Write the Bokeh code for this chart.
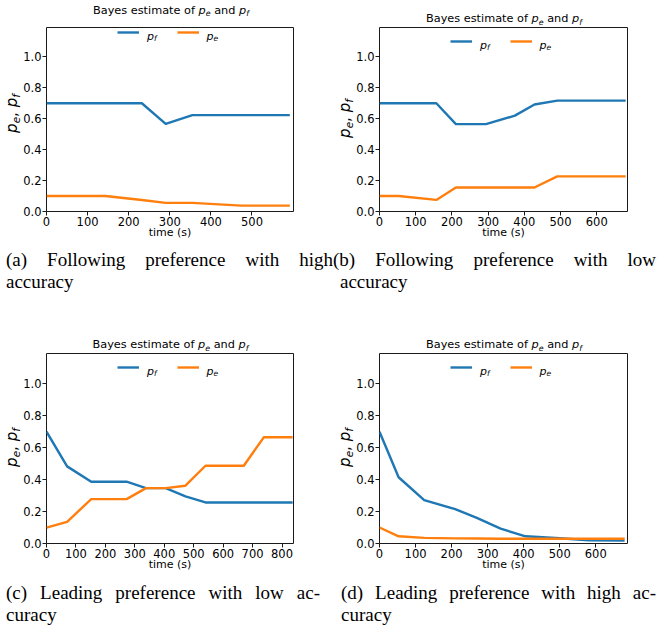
from bokeh.plotting import figure
from bokeh.models import (Label, Legend, LegendItem, FixedTicker,
                          PrintfTickFormatter, Range1d, Div, GridBox)
from bokeh.embed import file_html
from bokeh.resources import INLINE

# ---------------- data ----------------
time_a = [0, 143, 232, 290, 355, 420, 475, 592]
pf_a = [0.70, 0.70, 0.70, 0.567, 0.623, 0.623, 0.623, 0.623]
pe_a = [0.10, 0.10, 0.074, 0.056, 0.056, 0.046, 0.038, 0.038]

time_b = [0, 53, 157, 211, 294, 374, 428, 491, 680]
pf_b = [0.70, 0.70, 0.70, 0.565, 0.565, 0.62, 0.692, 0.717, 0.717]
pe_b = [0.10, 0.10, 0.075, 0.155, 0.155, 0.155, 0.155, 0.227, 0.227]

time_c = [0, 70, 152, 272, 338, 405, 472, 540, 670, 738, 836]
pf_c = [0.70, 0.483, 0.387, 0.387, 0.347, 0.347, 0.295, 0.257, 0.257, 0.257, 0.257]
pe_c = [0.10, 0.136, 0.278, 0.278, 0.347, 0.347, 0.362, 0.487, 0.487, 0.665, 0.665]

time_d = [0, 53, 124, 210, 270, 336, 405, 500, 580, 680]
pf_d = [0.70, 0.415, 0.272, 0.215, 0.16, 0.093, 0.045, 0.033, 0.02, 0.018]
pe_d = [0.10, 0.045, 0.035, 0.032, 0.031, 0.030, 0.030, 0.030, 0.030, 0.030]

xmax = {"a": 601, "b": 685, "c": 839, "d": 688}
xticks = {"a": [0, 100, 200, 300, 400, 500],
          "b": [0, 100, 200, 300, 400, 500, 600],
          "c": [0, 100, 200, 300, 400, 500, 600, 700, 800],
          "d": [0, 100, 200, 300, 400, 500, 600]}
yticks = [0.0, 0.2, 0.4, 0.6, 0.8, 1.0]
ymax = 1.19

series_names = ["p_f", "p_e"]
captions = {
    "a": ["(a) Following preference with high", "accuracy"],
    "b": ["(b) Following preference with low", "accuracy"],
    "c": ["(c) Leading preference with low ac-", "curacy"],
    "d": ["(d) Leading preference with high ac-", "curacy"],
}
xlabel = "time (s)"

BLUE = "#1f77b4"
ORANGE = "#ff7f0e"
FONT = "DejaVu Sans"

ADV = {'p': 0.635, 'e': 0.615, 'f': 0.352}


def it(s):
    return f'<span style="font-style:italic">{s}</span>'


def sub(s):
    return ('<span style="font-style:italic;font-size:70%;position:relative;'
            f'top:0.3em;line-height:0">{s}</span>')


def math(name):
    base, s = name.split("_")
    return it(base) + sub(s)


TITLE_HTML = f"Bayes estimate of {math('p_e')} and {math('p_f')}"
YLAB_HTML = f"{math('p_e')}, {math('p_f')}"


def panel(key, times, pf, pe, left, right, top, bottom, fw, fh):
    p = figure(width=left + fw + right, height=top + fh + bottom,
               x_range=Range1d(0, xmax[key]), y_range=Range1d(0, ymax),
               output_backend="svg", toolbar_location=None, title=None,
               min_border_left=left, min_border_right=right,
               min_border_top=top, min_border_bottom=bottom)
    p.margin = 0
    p.xgrid.visible = False
    p.ygrid.visible = False
    p.outline_line_color = "#1a1a1a"
    p.outline_line_width = 1
    p.background_fill_alpha = 0
    p.border_fill_alpha = 0
    for ax in (p.xaxis[0], p.yaxis[0]):
        ax.axis_line_color = None
        ax.major_tick_in = 0
        ax.major_tick_out = 4
        ax.major_tick_line_color = "#1a1a1a"
        ax.minor_tick_line_color = None
        ax.major_label_text_font = FONT
        ax.major_label_text_font_size = "11.5px"
        ax.major_label_text_color = "black"
        ax.major_label_standoff = 1
    p.xaxis.ticker = FixedTicker(ticks=xticks[key])
    p.xaxis.formatter = PrintfTickFormatter(format="%d")
    p.xaxis.axis_label = xlabel
    p.xaxis.axis_label_text_font = FONT
    p.xaxis.axis_label_text_font_size = "11px"
    p.xaxis.axis_label_text_font_style = "normal"
    p.xaxis.axis_label_text_color = "black"
    p.xaxis.axis_label_standoff = -3
    p.yaxis.ticker = FixedTicker(ticks=yticks)
    p.yaxis.formatter = PrintfTickFormatter(format="%.1f")

    r_pf = p.line(times, pf, line_color=BLUE, line_width=2.4, line_join="round")
    r_pe = p.line(times, pe, line_color=ORANGE, line_width=2.4, line_join="round")

    leg_y = fh - 14
    legend = Legend(items=[LegendItem(label=" ", renderers=[r_pf]),
                           LegendItem(label=" ", renderers=[r_pe])],
                    location=(71, leg_y - 8), orientation="horizontal",
                    glyph_width=22, glyph_height=16, label_height=16,
                    label_width=23, label_standoff=8, spacing=7,
                    padding=0, margin=0, border_line_color=None,
                    background_fill_alpha=0, label_text_font_size="11px")
    p.add_layout(legend, "center")
    # legend texts p_f and p_e (math style: italic p with subscript)
    for name, lx in zip(series_names, (100.5, 160.0)):
        base, s = name.split("_")
        p.add_layout(Label(x=lx, y=leg_y - 3.5, x_units="screen", y_units="screen",
                           text=base, text_font=FONT, text_font_size="11px",
                           text_font_style="italic", text_color="black",
                           text_baseline="alphabetic"))
        p.add_layout(Label(x=lx + ADV[base] * 11, y=leg_y - 3.5 - 2.2,
                           x_units="screen", y_units="screen",
                           text=s, text_font=FONT, text_font_size="7.7px",
                           text_font_style="italic", text_color="black",
                           text_baseline="alphabetic"))
    return p


def overlay(w, h, frame_left, frame_top, fw, fh, ylab_bx, cap, cap_left,
            cap_top, cap_w, cap_indent):
    ts = 11.3
    t_top = frame_top - 4.2 - 0.846 * ts
    ys = 15.0
    cx = ylab_bx - 0.346 * ys
    cy = frame_top + fh / 2.0 - 1
    parts = [
        f'<div style="position:absolute;left:{frame_left + 1}px;top:{t_top:.2f}px;'
        f'width:{fw}px;height:{ts}px;text-align:center;font-size:{ts}px;'
        f'line-height:{ts}px;white-space:nowrap">{TITLE_HTML}</div>',
        f'<div style="position:absolute;left:{cx - 40:.2f}px;top:{cy - ys / 2:.2f}px;'
        f'width:80px;height:{ys}px;text-align:center;font-size:{ys}px;'
        f'line-height:{ys}px;white-space:nowrap;transform:rotate(-90deg);'
        f'transform-origin:50% 50%">{YLAB_HTML}</div>',
        f'<div style="position:absolute;left:{cap_left}px;top:{cap_top}px;width:{cap_w}px;'
        "font-family:'Liberation Serif','Times New Roman',serif;font-size:19px;"
        'line-height:21.7px">'
        f'<div style="text-align:justify;text-align-last:justify">{cap[0]}</div>'
        f'<div style="padding-left:{cap_indent}px">{cap[1]}</div></div>',
    ]
    html = (f'<div style="position:relative;width:{w}px;height:{h}px;'
            f"font-family:'DejaVu Sans',sans-serif;color:#000\">{''.join(parts)}</div>")
    return Div(text=html, width=w, height=h, margin=0,
               styles={"position": "relative", "z-index": "5",
                       "pointer-events": "none", "overflow": "visible"})


# cell a: 333x300 at (0,0); cell b: 325x300 at (333,0)
# cell c: 333x329 at (0,300); cell d: 325x329 at (333,300)
fa = panel("a", time_a, pf_a, pe_a, 46, 39, 18, 89, 248, 193)
fb = panel("b", time_b, pf_b, pe_b, 46, 31, 27, 89, 248, 184)
fc = panel("c", time_c, pf_c, pe_c, 46, 40, 53, 86, 247, 190)
fd = panel("d", time_d, pf_d, pe_d, 46, 31, 53, 86, 248, 190)

oa = overlay(333, 300, 46, 18.3, 248, 193, 17.5, captions["a"], 6, 249.4, 327, 0)
ob = overlay(325, 300, 46, 27, 248, 184, 17.0, captions["b"], 0, 249.4, 323, 7)
oc = overlay(333, 329, 46, 53, 247, 190, 17.5, captions["c"], 6, 282, 314, 0)
od = overlay(325, 329, 46, 53, 248, 190, 17.0, captions["d"], 8, 282, 315, 0)

grid = GridBox(children=[(fa, 0, 0), (oa, 0, 0), (fb, 0, 1), (ob, 0, 1),
                         (fc, 1, 0), (oc, 1, 0), (fd, 1, 1), (od, 1, 1)],
               spacing=0)

open("out.html", "w").write(file_html(grid, INLINE))
